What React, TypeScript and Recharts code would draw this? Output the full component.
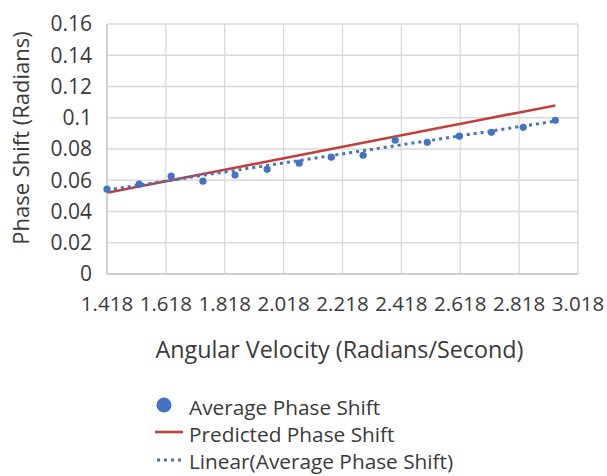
import React from "react";
import {
  ComposedChart,
  Line,
  Scatter,
  XAxis,
  YAxis,
  CartesianGrid,
} from "recharts";

// Angular velocity (rad/s)
const omega = [1.418, 1.527, 1.636, 1.744, 1.853, 1.962, 2.071, 2.18, 2.288, 2.397, 2.506, 2.615, 2.724, 2.832, 2.941];
// Average measured phase shift (rad)
const avgShift = [0.0543, 0.0575, 0.0626, 0.0594, 0.0633, 0.067, 0.0709, 0.0748, 0.076, 0.0856, 0.0843, 0.0882, 0.0907, 0.0939, 0.0984];
// Predicted phase shift (rad)
const predicted = [0.052, 0.056, 0.06, 0.064, 0.068, 0.072, 0.076, 0.08, 0.084, 0.088, 0.092, 0.096, 0.1, 0.1039, 0.1079];
// Linear trendline of average phase shift
const trend = [0.0537, 0.0569, 0.06, 0.0632, 0.0663, 0.0695, 0.0726, 0.0758, 0.0789, 0.0821, 0.0852, 0.0884, 0.0915, 0.0947, 0.0978];

const xTicks = [1.418, 1.618, 1.818, 2.018, 2.218, 2.418, 2.618, 2.818, 3.018];
const yTicks = [0, 0.02, 0.04, 0.06, 0.08, 0.1, 0.12, 0.14, 0.16];

const xTitle = "Angular Velocity (Radians/Second)";
const yTitle = "Phase Shift (Radians)";
const legendNames = ["Average Phase Shift", "Predicted Phase Shift", "Linear(Average Phase Shift)"];

const data = omega.map((w, i) => ({
  omega: w,
  avg: avgShift[i],
  predicted: predicted[i],
  trend: trend[i],
}));

const FONT = "'Open Sans', sans-serif";
const TEXT = "#3a3a3a";
const BLUE = "#4472c4";
const RED = "#c0413c";
const GRID = "#d9d9d9";

export default function App() {
  return (
    <div style={{ position: "absolute", left: 0, top: 0, width: 607, height: 476, background: "#fff" }}>
      <ComposedChart
        width={607}
        height={476}
        data={data}
        margin={{ top: 24, right: 29, left: 0, bottom: 172 }}
      >
        <CartesianGrid stroke={GRID} strokeWidth={1.3} />
        <XAxis
          type="number"
          dataKey="omega"
          domain={[1.418, 3.018]}
          ticks={xTicks}
          interval={0}
          height={30}
          tickSize={0}
          tickMargin={22}
          axisLine={{ stroke: "#c8c8c8", strokeWidth: 1.3 }}
          tickLine={false}
          tick={{ fontFamily: FONT, fontSize: 20.5, fill: TEXT }}
          label={(props: any) => {
            const vb = props.viewBox;
            return (
              <text
                x={vb.x + vb.width / 2 - 3}
                y={vb.y + vb.height + 54}
                textAnchor="middle"
                fontFamily={FONT}
                fontSize={23.3}
                fill={TEXT}
              >
                {xTitle}
              </text>
            );
          }}
        />
        <YAxis
          type="number"
          domain={[0, 0.16]}
          ticks={yTicks}
          interval={0}
          width={107}
          tickSize={0}
          tickMargin={15}
          axisLine={{ stroke: "#c8c8c8", strokeWidth: 1.3 }}
          tickLine={false}
          tick={{ fontFamily: FONT, fontSize: 21, fill: TEXT }}
          label={(props: any) => {
            const vb = props.viewBox;
            const cx = 29;
            const cy = vb.y + vb.height / 2 - 11;
            return (
              <text
                x={cx}
                y={cy}
                transform={`rotate(-90, ${cx}, ${cy})`}
                textAnchor="middle"
                fontFamily={FONT}
                fontSize={22}
                fill={TEXT}
              >
                {yTitle}
              </text>
            );
          }}
        />
        <Scatter
          dataKey="avg"
          fill={BLUE}
          isAnimationActive={false}
          shape={(p: any) => <circle cx={p.cx} cy={p.cy} r={3.6} fill={BLUE} />}
        />
        <Line
          type="linear"
          dataKey="predicted"
          stroke={RED}
          strokeWidth={2.6}
          dot={false}
          activeDot={false}
          isAnimationActive={false}
        />
        <Line
          type="linear"
          dataKey="trend"
          stroke={BLUE}
          strokeWidth={3}
          strokeDasharray="3 4"
          dot={false}
          activeDot={false}
          isAnimationActive={false}
        />
      </ComposedChart>
      <svg
        width={607}
        height={90}
        style={{ position: "absolute", left: 0, top: 386 }}
      >
        <circle cx={164} cy={19} r={7.5} fill={BLUE} />
        <line x1={155} x2={183} y1={46} y2={46} stroke={RED} strokeWidth={2.6} />
        <line x1={157} x2={184} y1={74} y2={74} stroke={BLUE} strokeWidth={3} strokeDasharray="3 4" />
        {legendNames.map((n, i) => (
          <text
            key={n}
            x={189}
            y={21 + i * 27}
            dominantBaseline="central"
            fontFamily={FONT}
            fontSize={20.8}
            fill={TEXT}
          >
            {n}
          </text>
        ))}
      </svg>
    </div>
  );
}
